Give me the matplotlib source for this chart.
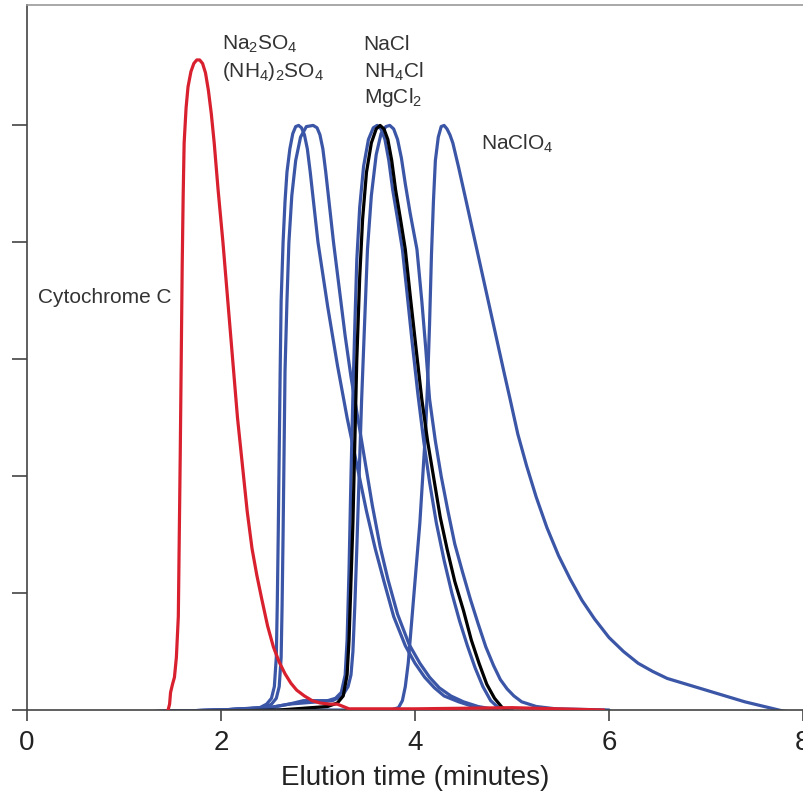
import numpy as np
import matplotlib
matplotlib.use("Agg")
import matplotlib.pyplot as plt

plt.rcParams['mathtext.default'] = 'regular'

# elution profiles (time in minutes, signal in tick units)
cyt_x = [0.13, 0.8, 1.40, 1.45, 1.47, 1.48, 1.50, 1.52, 1.54, 1.56, 1.57, 1.58, 1.59, 1.60, 1.61,
         1.62, 1.64, 1.66, 1.69, 1.72, 1.75, 1.78, 1.81, 1.84, 1.87, 1.90, 1.93, 1.97, 2.02, 2.07,
         2.12, 2.17, 2.22, 2.27, 2.32, 2.37, 2.42, 2.48, 2.54, 2.60, 2.66, 2.72, 2.78, 2.86, 2.94,
         3.02, 3.12, 3.20, 3.26, 3.32, 4.0, 5.0, 5.94]
cyt_y = [-0.03, -0.03, -0.03, -0.015, 0.05, 0.15, 0.22, 0.28, 0.45, 0.8, 1.5, 2.2, 3.0, 3.8, 4.4,
         4.85, 5.15, 5.33, 5.46, 5.53, 5.56, 5.56, 5.53, 5.45, 5.3, 5.1, 4.85, 4.45, 4.0, 3.5,
         3.0, 2.5, 2.1, 1.7, 1.38, 1.15, 0.95, 0.72, 0.54, 0.41, 0.31, 0.23, 0.17, 0.12, 0.08,
         0.06, 0.05, 0.05, 0.03, 0.01, 0.01, 0.02, 0.0]

na2so4_x = [0.0, 1.0, 2.0, 2.40, 2.47, 2.52, 2.55, 2.57, 2.58, 2.59, 2.60, 2.61, 2.62, 2.64, 2.66,
            2.68, 2.71, 2.74, 2.77, 2.80, 2.83, 2.86, 2.89, 2.92, 2.96, 3.00, 3.10, 3.20, 3.30, 3.40,
            3.50, 3.59, 3.68, 3.78, 3.90, 4.00, 4.10, 4.20, 4.30, 4.45, 4.60, 4.80]
na2so4_y = [-0.02, -0.02, 0.0, 0.02, 0.05, 0.1, 0.2, 0.45, 0.9, 1.5, 2.2, 2.9, 3.5, 4.0, 4.35,
            4.6, 4.8, 4.93, 4.99, 5.0, 4.98, 4.92, 4.8, 4.6, 4.3, 4.0, 3.45, 2.95, 2.5, 2.1,
            1.7, 1.38, 1.1, 0.8, 0.55, 0.4, 0.28, 0.19, 0.12, 0.07, 0.03, 0.0]

nh4so4_x = [0.0, 1.0, 2.0, 2.45, 2.52, 2.57, 2.60, 2.62, 2.63, 2.64, 2.65, 2.66, 2.68, 2.70, 2.73,
            2.77, 2.82, 2.88, 2.95, 2.99, 3.02, 3.05, 3.08, 3.12, 3.16, 3.22, 3.28, 3.34, 3.40, 3.48,
            3.56, 3.64, 3.72, 3.82, 3.94, 4.05, 4.15, 4.25, 4.37, 4.50, 4.65, 4.85]
nh4so4_y = [-0.02, -0.02, 0.0, 0.02, 0.05, 0.1, 0.2, 0.45, 0.9, 1.5, 2.2, 2.9, 3.5, 4.0, 4.4,
            4.7, 4.9, 4.99, 5.0, 4.98, 4.92, 4.8, 4.6, 4.3, 4.0, 3.6, 3.2, 2.85, 2.55, 2.15,
            1.75, 1.4, 1.12, 0.82, 0.56, 0.4, 0.28, 0.19, 0.12, 0.07, 0.03, 0.0]

nacl_x = [0.0, 1.0, 2.0, 2.5, 2.7, 2.85, 3.10, 3.18, 3.24, 3.28, 3.30, 3.32, 3.34, 3.36, 3.38,
          3.40, 3.43, 3.47, 3.52, 3.57, 3.61, 3.65, 3.69, 3.73, 3.77, 3.82, 3.87, 3.92, 3.97, 4.03,
          4.09, 4.15, 4.22, 4.30, 4.38, 4.46, 4.54, 4.62, 4.70, 4.78, 4.86, 5.0]
nacl_y = [-0.02, -0.02, 0.0, 0.02, 0.05, 0.08, 0.08, 0.1, 0.15, 0.3, 0.6, 1.2, 2.0, 2.7, 3.3,
          3.85, 4.3, 4.65, 4.88, 4.98, 5.0, 4.97, 4.88, 4.7, 4.45, 4.2, 3.94, 3.55, 3.15, 2.7,
          2.3, 1.95, 1.6, 1.28, 1.0, 0.76, 0.55, 0.36, 0.2, 0.08, 0.02, 0.0]

nh4cl_x = [0.2, 1.0, 2.0, 2.6, 3.10, 3.20, 3.26, 3.30, 3.32, 3.34, 3.36, 3.38, 3.40, 3.43, 3.46,
           3.50, 3.55, 3.60, 3.64, 3.68, 3.72, 3.76, 3.80, 3.85, 3.90, 3.95, 4.01, 4.07, 4.13, 4.19,
           4.26, 4.33, 4.41, 4.50, 4.58, 4.66, 4.74, 4.82, 4.90, 4.95]
nh4cl_y = [-0.04, -0.03, -0.01, 0.0, 0.03, 0.06, 0.12, 0.3, 0.6, 1.1, 1.6, 2.3, 3.0, 3.7, 4.2,
           4.6, 4.85, 4.97, 5.0, 4.97, 4.88, 4.7, 4.45, 4.2, 3.94, 3.55, 3.1, 2.66, 2.3, 2.0,
           1.65, 1.38, 1.1, 0.85, 0.6, 0.4, 0.22, 0.1, 0.02, 0.0]

mgcl2_x = [0.0, 1.0, 2.0, 2.5, 2.7, 2.85, 3.15, 3.25, 3.31, 3.34, 3.36, 3.38, 3.40, 3.42, 3.45,
           3.48, 3.51, 3.55, 3.60, 3.65, 3.70, 3.74, 3.78, 3.82, 3.86, 3.90, 3.95, 4.02, 4.07, 4.11,
           4.15, 4.21, 4.27, 4.34, 4.41, 4.49, 4.57, 4.65, 4.73, 4.81, 4.88, 4.95, 5.02, 5.10, 5.25,
           5.45, 6.0]
mgcl2_y = [-0.02, -0.02, 0.0, 0.02, 0.05, 0.06, 0.08, 0.12, 0.2, 0.3, 0.5, 0.9, 1.38, 1.9, 2.66,
           3.3, 3.94, 4.4, 4.75, 4.93, 4.99, 5.0, 4.97, 4.88, 4.72, 4.5, 4.25, 3.94, 3.5, 3.1,
           2.66, 2.3, 2.0, 1.7, 1.42, 1.18, 0.95, 0.74, 0.54, 0.38, 0.26, 0.18, 0.12, 0.07, 0.03,
           0.01, 0.0]

naclo4_x = [0.0, 1.0, 2.0, 3.0, 3.75, 3.83, 3.87, 3.90, 3.93, 3.96, 3.99, 4.02, 4.05, 4.08, 4.11,
            4.13, 4.15, 4.17, 4.19, 4.21, 4.24, 4.27, 4.30, 4.33, 4.36, 4.39, 4.45, 4.52, 4.60, 4.68,
            4.76, 4.84, 4.92, 4.98, 5.06, 5.15, 5.25, 5.36, 5.48, 5.60, 5.72, 5.85, 6.00, 6.15, 6.30,
            6.45, 6.60, 6.80, 7.00, 7.20, 7.40, 7.60, 7.80, 7.92]
naclo4_y = [-0.02, -0.02, 0.0, 0.0, 0.0, 0.02, 0.08, 0.2, 0.4, 0.7, 1.0, 1.3, 1.6, 2.0, 2.4,
            2.8, 3.3, 3.9, 4.35, 4.7, 4.9, 4.99, 5.0, 4.97, 4.92, 4.85, 4.64, 4.38, 4.08, 3.78,
            3.48, 3.18, 2.88, 2.66, 2.36, 2.09, 1.82, 1.56, 1.32, 1.12, 0.94, 0.78, 0.62, 0.50, 0.40,
            0.33, 0.27, 0.22, 0.17, 0.12, 0.07, 0.03, -0.01, -0.02]

blue = '#3b56a6'
red = '#d8202e'
txt = '#333333'
lw = 2.3

fig = plt.figure(figsize=(8.04, 8.04), dpi=100)
ax = fig.add_axes([27/804, 93/804, 776/804, 705/804])

for xs, ys in [(na2so4_x, na2so4_y), (nh4so4_x, nh4so4_y), (naclo4_x, naclo4_y),
               (nacl_x, nacl_y), (mgcl2_x, mgcl2_y)]:
    ax.plot(xs, ys, color=blue, lw=lw, solid_joinstyle='round', solid_capstyle='round')
ax.plot(nh4cl_x, nh4cl_y, color='black', lw=lw, solid_joinstyle='round')
ax.plot(cyt_x, cyt_y, color=red, lw=lw, solid_joinstyle='round', zorder=3)

fam = 'Liberation Sans'
fs = 15
ax.text(0.11, 3.49, 'Cytochrome C', family=fam, fontsize=fs, color=txt, va='baseline')
ax.text(2.01, 5.66, 'Na$_2$SO$_4$', family=fam, fontsize=fs, color=txt, va='baseline')
ax.text(2.01, 5.42, '(NH$_4$)$_2$SO$_4$', family=fam, fontsize=fs, color=txt, va='baseline')
ax.text(3.47, 5.65, 'NaCl', family=fam, fontsize=fs, color=txt, va='baseline')
ax.text(3.47, 5.42, 'NH$_4$Cl', family=fam, fontsize=fs, color=txt, va='baseline')
ax.text(3.47, 5.20, 'MgCl$_2$', family=fam, fontsize=fs, color=txt, va='baseline')
ax.text(4.68, 4.80, 'NaClO$_4$', family=fam, fontsize=fs, color=txt, va='baseline')

ax.set_xlim(0, 8)
ax.set_ylim(0, 6.03)
ax.set_xticks([0, 2, 4, 6, 8])
ax.set_yticks([0, 1, 2, 3, 4, 5])
ax.set_yticklabels([])
ax.tick_params(axis='x', length=8, width=1.2, color='#444444', labelsize=20,
               labelcolor='#222222', pad=6)
ax.tick_params(axis='y', length=11, width=1.2, color='#444444')
for lab in ax.get_xticklabels():
    lab.set_family('Liberation Sans')
ax.set_xlabel('Elution time (minutes)', fontsize=20, family='Liberation Sans',
              color='#222222', labelpad=6)

ax.spines['right'].set_visible(False)
ax.spines['left'].set_color('#444444')
ax.spines['bottom'].set_color('#444444')
ax.spines['top'].set_color('#999999')
for s in ['left', 'bottom', 'top']:
    ax.spines[s].set_linewidth(1.2)

fig.savefig('out.png', dpi=100)
